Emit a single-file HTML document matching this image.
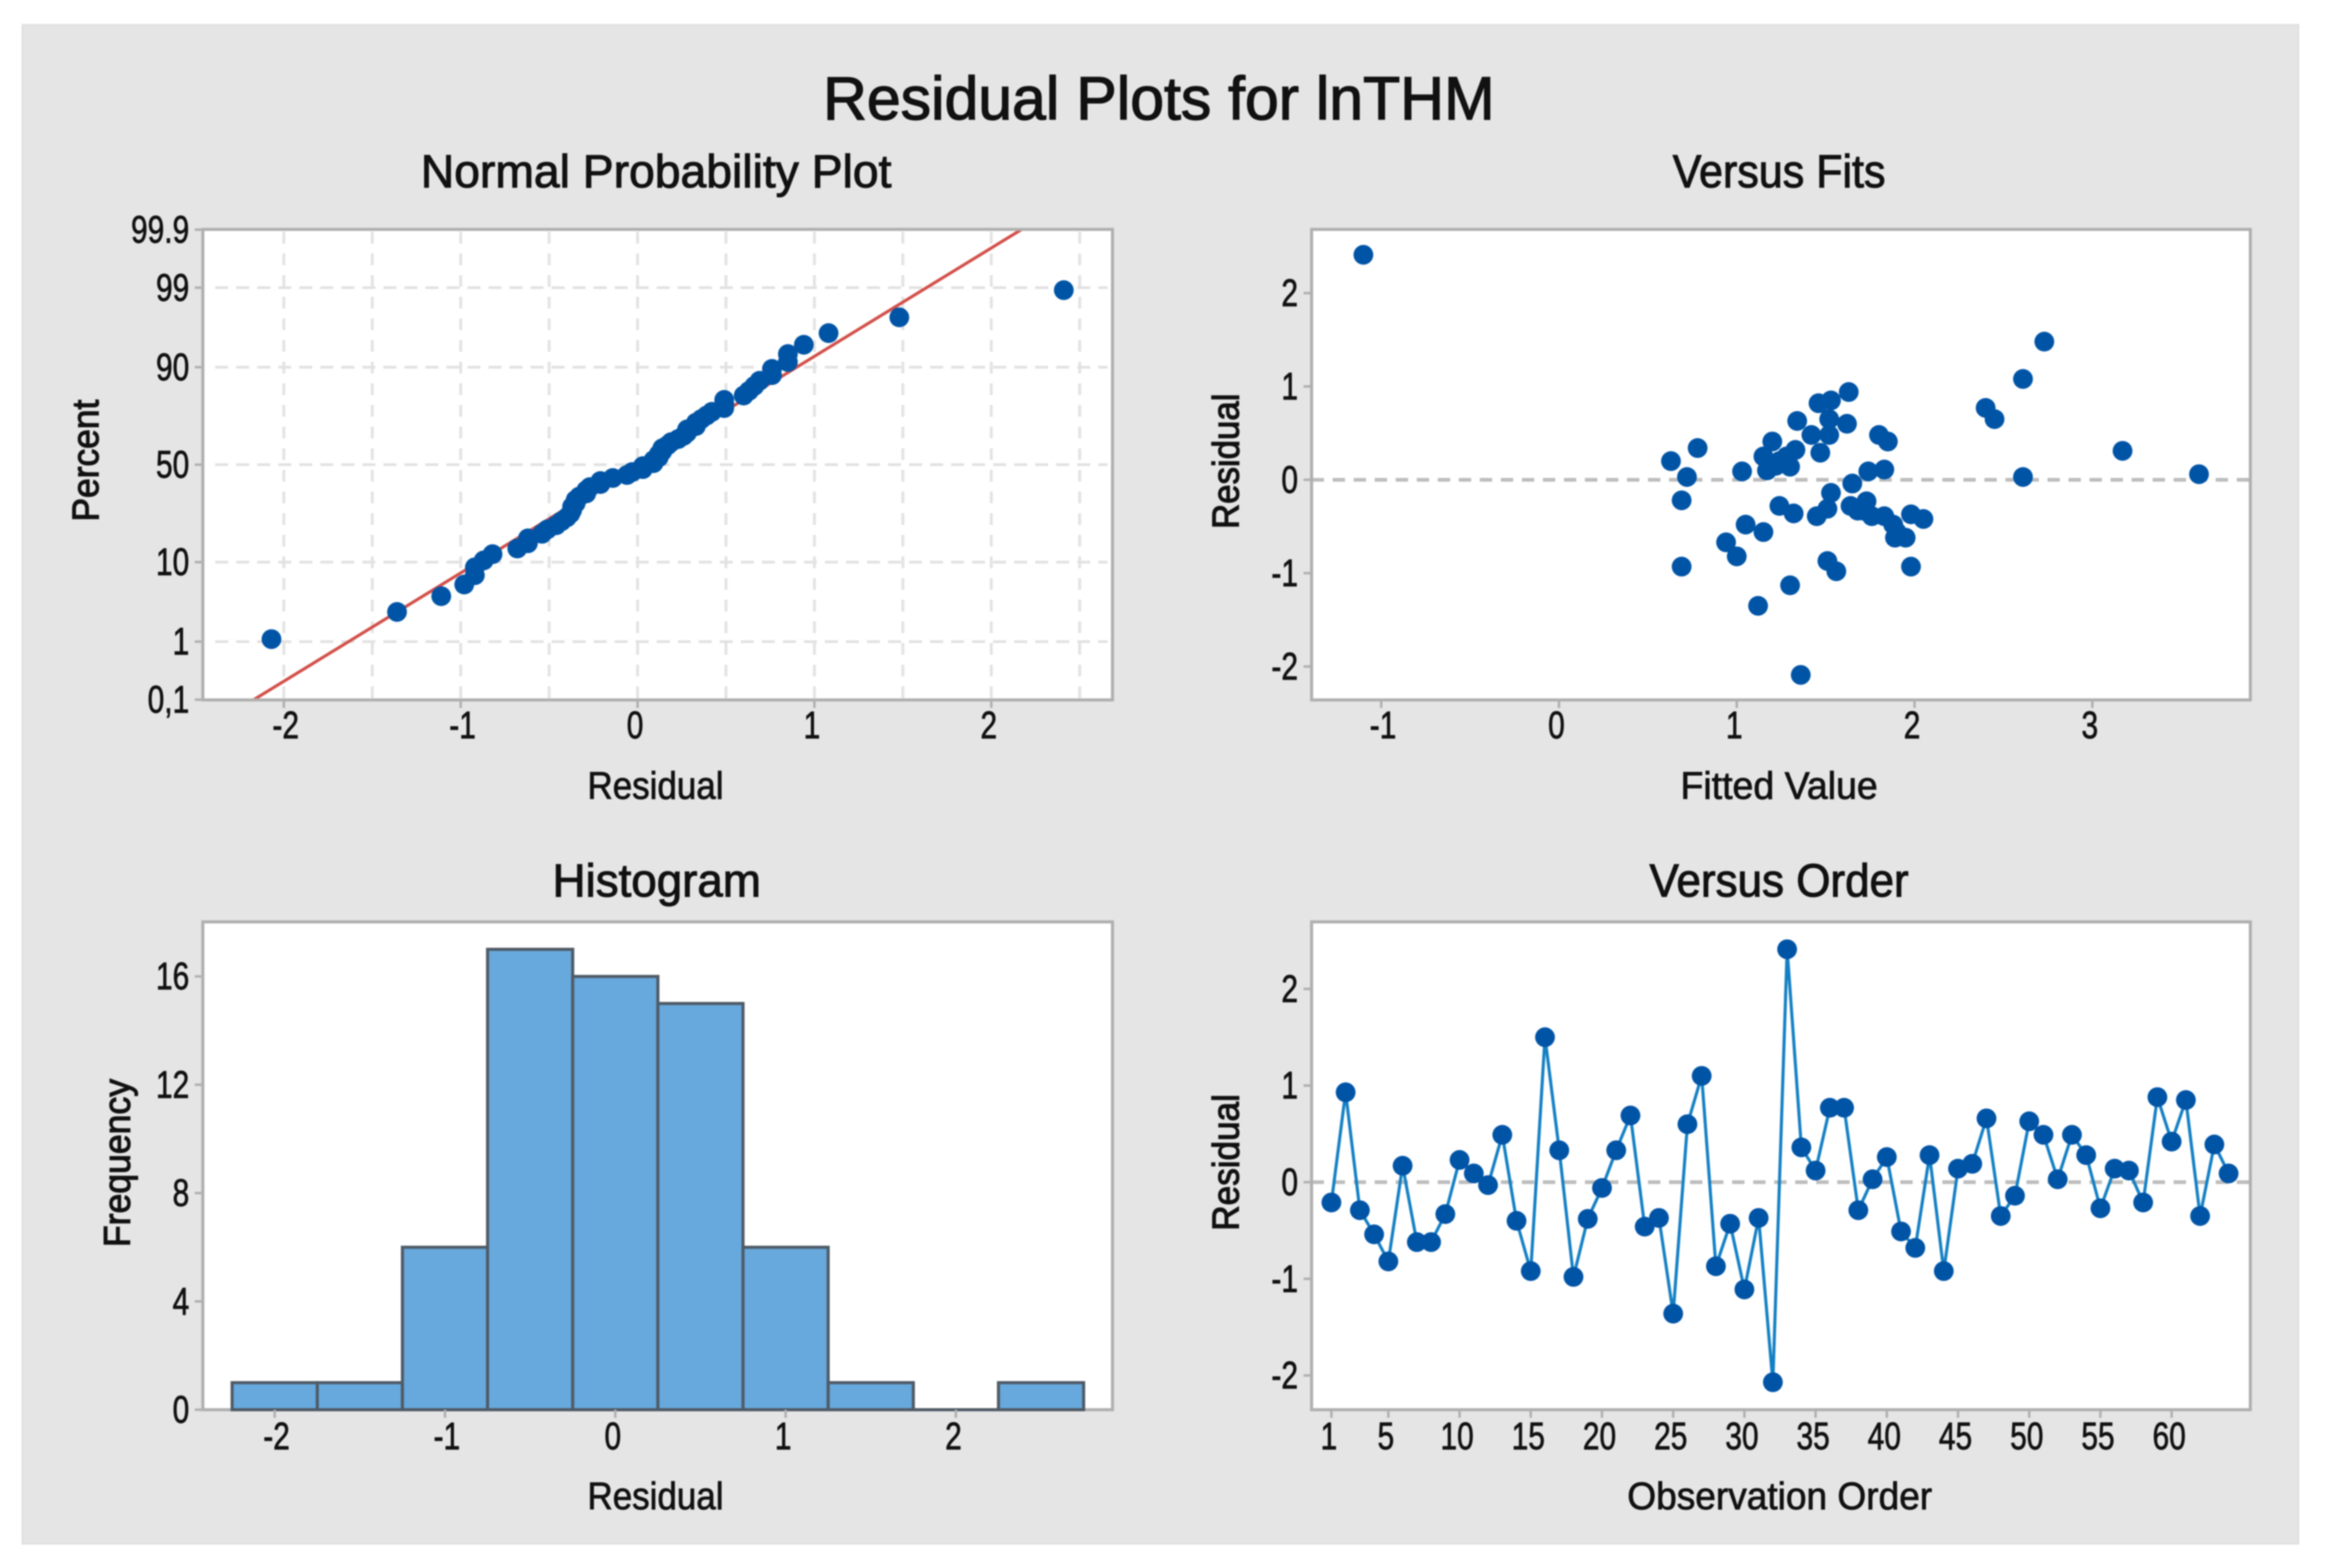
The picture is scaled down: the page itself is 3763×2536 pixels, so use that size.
<!DOCTYPE html>
<html lang="en">
<head>
<meta charset="utf-8">
<title>Residual Plots for lnTHM</title>
<style>
html,body{margin:0;padding:0;background:#fff}
svg{display:block;filter:blur(1px)}
text{font-family:"Liberation Sans",sans-serif;fill:#111;stroke:#111;stroke-width:1.2px}
</style>
</head>
<body>
<svg id="chart" xmlns="http://www.w3.org/2000/svg" width="3763" height="2536" viewBox="0 0 3763 2536">
  <rect x="0" y="0" width="3763" height="2536" fill="#ffffff"/>
  <rect x="36" y="40" width="3681" height="2457" fill="#e5e5e5" stroke="#dcdcdc" stroke-width="2"/>
  <text x="1874" y="193" font-size="98" text-anchor="middle" textLength="1086" lengthAdjust="spacingAndGlyphs" style="stroke-width:2px">Residual Plots for lnTHM</text>

  <text x="1061" y="303" font-size="75" text-anchor="middle" textLength="761" lengthAdjust="spacingAndGlyphs" style="stroke-width:1.6px">Normal Probability Plot</text>
  <text x="2877" y="303" font-size="75" text-anchor="middle" textLength="344" lengthAdjust="spacingAndGlyphs" style="stroke-width:1.6px">Versus Fits</text>
  <text x="1062" y="1450" font-size="75" text-anchor="middle" textLength="337" lengthAdjust="spacingAndGlyphs" style="stroke-width:1.6px">Histogram</text>
  <text x="2877" y="1450" font-size="75" text-anchor="middle" textLength="419" lengthAdjust="spacingAndGlyphs" style="stroke-width:1.6px">Versus Order</text>

  <text x="1060" y="1292" font-size="62" text-anchor="middle" textLength="220" lengthAdjust="spacingAndGlyphs">Residual</text>
  <text x="2877" y="1292" font-size="62" text-anchor="middle" textLength="319" lengthAdjust="spacingAndGlyphs">Fitted Value</text>
  <text x="1060" y="2441" font-size="62" text-anchor="middle" textLength="220" lengthAdjust="spacingAndGlyphs">Residual</text>
  <text x="2878" y="2441" font-size="62" text-anchor="middle" textLength="493" lengthAdjust="spacingAndGlyphs">Observation Order</text>

  <text transform="translate(159 745) rotate(-90)" font-size="60" text-anchor="middle" textLength="197" lengthAdjust="spacingAndGlyphs" style="stroke-width:1.8px">Percent</text>
  <text transform="translate(2003 746) rotate(-90)" font-size="60" text-anchor="middle" textLength="219" lengthAdjust="spacingAndGlyphs" style="stroke-width:1.8px">Residual</text>
  <text transform="translate(210 1881) rotate(-90)" font-size="60" text-anchor="middle" textLength="272" lengthAdjust="spacingAndGlyphs" style="stroke-width:1.8px">Frequency</text>
  <text transform="translate(2003 1880) rotate(-90)" font-size="60" text-anchor="middle" textLength="221" lengthAdjust="spacingAndGlyphs" style="stroke-width:1.8px">Residual</text>
</svg>
<script>
// ---------- Normal probability plot data ----------
const nppResiduals = [-2.07,-1.36,-1.11,-0.98,-0.92,-0.92,-0.87,-0.82,-0.68,-0.62,-0.62,-0.54,-0.51,-0.46,-0.43,-0.40,-0.38,-0.37,-0.37,-0.35,-0.35,-0.33,-0.29,-0.29,-0.27,-0.21,-0.21,-0.14,-0.06,-0.03,0.03,0.03,0.09,0.09,0.12,0.12,0.14,0.14,0.17,0.19,0.23,0.26,0.28,0.28,0.33,0.33,0.36,0.39,0.42,0.49,0.49,0.49,0.60,0.63,0.66,0.69,0.76,0.76,0.85,0.85,0.94,1.08,1.48,2.41];
const nppPercents = [1.09,2.64,4.19,5.75,7.30,8.85,10.40,11.96,13.51,15.06,16.61,18.17,19.72,21.27,22.83,24.38,25.93,27.48,29.04,30.59,32.14,33.70,35.25,36.80,38.35,39.91,41.46,43.01,44.57,46.12,47.67,49.22,50.78,52.33,53.88,55.43,56.99,58.54,60.09,61.65,63.20,64.75,66.30,67.86,69.41,70.96,72.52,74.07,75.62,77.17,78.73,80.28,81.83,83.39,84.94,86.49,88.04,89.60,91.15,92.70,94.25,95.81,97.36,98.91];
const nppLineResiduals = [-2.17,2.17];
const nppLinePercents = [0.1,99.9];
const nppXTicks = [-2,-1,0,1,2];
const nppXGrid = [-2,-1.5,-1,-0.5,0,0.5,1,1.5,2,2.5];
const nppYTicks = [0.1,1,10,50,90,99,99.9];
const nppYLabels = ['0,1','1','10','50','90','99','99.9'];
const nppYGrid = [1,10,50,90,99];

// ---------- Versus fits data ----------
const fitValues = [-1.10,2.73,2.61,2.40,2.45,3.17,3.60,2.61,0.63,0.78,0.72,0.69,0.69,1.03,1.05,1.15,0.94,1.00,1.12,1.30,1.36,1.51,1.56,1.98,1.24,1.32,1.45,1.51,1.53,1.65,1.74,1.83,1.64,1.68,1.73,1.71,1.76,1.83,1.88,1.90,1.89,1.95,1.98,2.05,1.63,1.46,1.53,1.52,1.62,1.34,1.42,1.52,1.47,1.80,1.85,1.20,1.15,1.33,1.28,1.24,1.18,1.17,1.22,1.30];
const fitResiduals = [2.41,1.48,1.08,0.77,0.65,0.31,0.06,0.03,0.20,0.34,0.03,-0.22,-0.93,0.09,-0.48,-0.56,-0.67,-0.82,-1.35,-1.13,-2.09,-0.87,-0.98,-0.93,-0.28,-0.36,-0.39,-0.31,-0.14,-0.04,0.09,0.11,-0.28,-0.33,-0.23,-0.33,-0.39,-0.39,-0.48,-0.56,-0.62,-0.62,-0.37,-0.42,0.94,0.82,0.85,0.65,0.60,0.63,0.48,0.48,0.29,0.48,0.41,0.41,0.25,0.32,0.25,0.20,0.15,0.10,0.15,0.14];
const fitXTicks = [-1,0,1,2,3];
const fitYTicks = [-2,-1,0,1,2];

// ---------- Histogram data ----------
const histBinStarts = [-2.25,-1.75,-1.25,-0.75,-0.25,0.25,0.75,1.25,1.75,2.25];
const histBinWidth = 0.5;
const histCounts = [1,1,6,17,16,15,6,1,0,1];
const histXTicks = [-2,-1,0,1,2];
const histYTicks = [0,4,8,12,16];

// ---------- Versus order data ----------
const orderResiduals = [-0.21,0.93,-0.29,-0.54,-0.82,0.17,-0.62,-0.62,-0.33,0.23,0.09,-0.03,0.49,-0.40,-0.92,1.50,0.33,-0.98,-0.38,-0.06,0.33,0.69,-0.46,-0.37,-1.36,0.60,1.10,-0.87,-0.43,-1.11,-0.37,-2.07,2.41,0.36,0.12,0.77,0.77,-0.29,0.03,0.26,-0.51,-0.68,0.28,-0.92,0.14,0.19,0.66,-0.35,-0.14,0.63,0.49,0.03,0.49,0.28,-0.27,0.14,0.12,-0.21,0.88,0.42,0.85,-0.35,0.39,0.09];
const orderXTicks = [1,5,10,15,20,25,30,35,40,45,50,55,60];
const orderYTicks = [-2,-1,0,1,2];

// ---------- Helpers ----------
const NS = 'http://www.w3.org/2000/svg';
const svg = document.getElementById('chart');
function make(tag, attrs, parent) {
  const el = document.createElementNS(NS, tag);
  for (const k in attrs) el.setAttribute(k, attrs[k]);
  (parent || svg).appendChild(el);
  return el;
}
function probit(p) {
  const lower = p < 0.5;
  const q = lower ? p : 1 - p;
  const t = Math.sqrt(-2 * Math.log(q));
  const z = t - (2.515517 + 0.802853 * t + 0.010328 * t * t) / (1 + 1.432788 * t + 0.189269 * t * t + 0.001308 * t * t * t);
  return lower ? -z : z;
}
function squeeze(el, factor) {
  const w = el.getComputedTextLength();
  el.setAttribute('textLength', (w * factor).toFixed(1));
  el.setAttribute('lengthAdjust', 'spacingAndGlyphs');
}

// ---------- Axis functions ----------
const nppX = v => 1031 + 286 * v;
const nppY = p => 751.5 - 123 * probit(p / 100);
const fitX = v => 2521 + 287.5 * v;
const fitY = v => 776 - 151 * v;
const histX = v => 995 + 275.4 * v;
const histY = v => 2280 - 43.8 * v;
const ordX = v => 2153 + 23.03 * (v - 1);
const ordY = v => 1912 - 156.3 * v;

const plotBoxes = {
  npp:  {l: 328,  r: 1799, t: 371,  b: 1132},
  fit:  {l: 2121, r: 3639, t: 371,  b: 1132},
  hist: {l: 328,  r: 1799, t: 1491, b: 2280},
  ord:  {l: 2121, r: 3639, t: 1491, b: 2280}
};
const FRAME = '#b0b0b0';
const MARK = '#0054a6';
const DOT_R = 16;

function drawBackground(box, name) {
  const bg = make('rect', {x: box.l, y: box.t, width: box.r - box.l, height: box.b - box.t, fill: '#ffffff'});
  
  
}
function drawFrame(box, name) {
  const fr = make('rect', {x: box.l, y: box.t, width: box.r - box.l, height: box.b - box.t, fill: 'none', stroke: FRAME, 'stroke-width': 5});
  
  
}
function drawXTicks(box, ticks, labels, scale, baseline, name, squeezeBy) {
  ticks.forEach((v, i) => {
    const x = scale(v);
    const tk = make('line', {x1: x, x2: x, y1: box.b, y2: box.b + 13, stroke: FRAME, 'stroke-width': 4});
    
    
    const nudge = String(labels[i]).charAt(0) === '-' ? 3 : -4;
    const tx = make('text', {x: x + nudge, y: baseline, 'font-size': 62, 'text-anchor': 'middle'});
    tx.textContent = labels[i];
    
    
    squeeze(tx, squeezeBy);
  });
}
function drawYTicks(box, ticks, labels, scale, name) {
  ticks.forEach((v, i) => {
    const y = scale(v);
    const tk = make('line', {x1: box.l - 13, x2: box.l, y1: y, y2: y, stroke: FRAME, 'stroke-width': 4});
    
    
    const tx = make('text', {x: box.l - 22, y: y + 21, 'font-size': 62, 'text-anchor': 'end'});
    tx.textContent = labels[i];
    
    
    squeeze(tx, 0.78);
  });
}
function drawZeroLine(box, y, name) {
  const z = make('line', {x1: box.l, x2: box.r, y1: y, y2: y, stroke: '#bdbdbd', 'stroke-width': 6, 'stroke-dasharray': '20 14'});
  
  
}

// ---------- Normal probability plot ----------
(function () {
  const box = plotBoxes.npp;
  drawBackground(box, 'normal');
  nppYGrid.forEach(p => {
    const g = make('line', {x1: box.l + 20, x2: box.r - 8, y1: nppY(p), y2: nppY(p), stroke: '#e2e2e2', 'stroke-width': 4.5, 'stroke-dasharray': '21 13'});
    
    
  });
  nppXGrid.forEach(v => {
    const g = make('line', {x1: nppX(v), x2: nppX(v), y1: box.t + 4, y2: box.b, stroke: '#e2e2e2', 'stroke-width': 4.5, 'stroke-dasharray': '19 16'});
    
    
  });
  const fitLine = make('line', {
    x1: nppX(nppLineResiduals[0]), y1: nppY(nppLinePercents[0]),
    x2: nppX(nppLineResiduals[1]), y2: nppY(nppLinePercents[1]),
    stroke: '#d2504a', 'stroke-width': 5
  });
  
  
  drawFrame(box, 'normal');
  nppResiduals.forEach((v, i) => {
    const c = make('circle', {cx: nppX(v), cy: nppY(nppPercents[i]), r: DOT_R, fill: MARK});
    
    
  });
  drawXTicks(box, nppXTicks, nppXTicks.map(String), nppX, 1194, 'normal', 0.78);
  drawYTicks(box, nppYTicks, nppYLabels, nppY, 'normal');
})();

// ---------- Versus fits ----------
(function () {
  const box = plotBoxes.fit;
  drawBackground(box, 'fits');
  drawZeroLine(box, fitY(0), 'fits');
  drawFrame(box, 'fits');
  fitValues.forEach((v, i) => {
    const c = make('circle', {cx: fitX(v), cy: fitY(fitResiduals[i]), r: DOT_R, fill: MARK});
    
    
  });
  drawXTicks(box, fitXTicks, fitXTicks.map(String), fitX, 1194, 'fits', 0.78);
  drawYTicks(box, fitYTicks, fitYTicks.map(String), fitY, 'fits');
})();

// ---------- Histogram ----------
(function () {
  const box = plotBoxes.hist;
  drawBackground(box, 'histogram');
  drawFrame(box, 'histogram');
  histCounts.forEach((n, i) => {
    const x0 = histX(histBinStarts[i]);
    const x1 = histX(histBinStarts[i] + histBinWidth);
    const yTop = histY(n);
    const yBase = histY(0);
    const d = 'M' + x0 + ' ' + yBase + 'L' + x0 + ' ' + yTop + 'L' + x1 + ' ' + yTop + 'L' + x1 + ' ' + yBase + 'Z';
    const bar = make('path', {d: d, fill: '#67a8dd', stroke: '#4f5b66', 'stroke-width': 5});
    
    
  });
  drawXTicks(box, histXTicks, histXTicks.map(String), histX, 2344, 'histogram', 0.78);
  drawYTicks(box, histYTicks, histYTicks.map(String), histY, 'histogram');
})();

// ---------- Versus order ----------
(function () {
  const box = plotBoxes.ord;
  drawBackground(box, 'order');
  drawZeroLine(box, ordY(0), 'order');
  drawFrame(box, 'order');
  const pts = orderResiduals.map((v, i) => ordX(i + 1).toFixed(1) + ',' + ordY(v).toFixed(1)).join(' ');
  const line = make('polyline', {points: pts, fill: 'none', stroke: '#1480c4', 'stroke-width': 5});
  
  
  orderResiduals.forEach((v, i) => {
    const c = make('circle', {cx: ordX(i + 1), cy: ordY(v), r: DOT_R, fill: MARK});
    
    
  });
  drawXTicks(box, orderXTicks, orderXTicks.map(String), ordX, 2344, 'order', 0.78);
  drawYTicks(box, orderYTicks, orderYTicks.map(String), ordY, 'order');
})();
</script>
</body>
</html>
